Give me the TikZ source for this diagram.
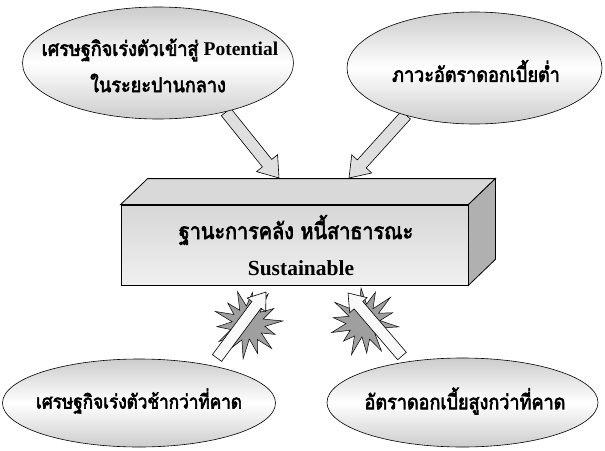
\documentclass[tikz,border=0pt]{standalone}
\usepackage{fontspec}
\setmainfont{Liberation Serif}
\newfontfamily\thai[Script=Thai, FakeStretch=0.88, BoldFont=*, BoldFeatures={FakeBold=3}]{Loma}
\usetikzlibrary{calc,shapes.geometric}
\tikzset{
  bubble/.style={ellipse, draw=black, line width=0.6pt, top color=gray!40, bottom color=gray!40, middle color=white, inner sep=0pt},
  lbl/.style={font=\bfseries\fontsize{20.5}{24}\selectfont, align=center, inner sep=0pt},
  inarrow/.style={draw=black, line width=0.6pt, fill=gray!25},
  outarrow/.style={draw=black, line width=0.6pt, fill=gray!5},
  burststy/.style={draw=black, line width=0.5pt, fill=gray!75},
  boxfront/.style={draw=black, line width=0.8pt, top color=gray!32, bottom color=gray!12, minimum width=347pt, minimum height=80pt, inner sep=0pt},
}
\newcommand{\blockarrow}[6]{%
  \path[#6] let \p1=($(#2)-(#1)$), \n1={atan2(\y1,\x1)}, \n2={veclen(\x1,\y1)} in
    [shift={(#1)}, rotate=\n1]
    (0pt,{-#3}) -- ({\n2-#5},{-#3}) -- ({\n2-#5},{-#4}) -- ({\n2},0pt) -- ({\n2-#5},{#4}) -- ({\n2-#5},{#3}) -- (0pt,{#3}) -- cycle;}
\newcommand{\burst}[2]{%
  \draw[burststy, shift={(#1)}, rotate=#2] (0:35) -- (13:17) -- (26:29) -- (39:16) -- (51:34) -- (64:18) -- (77:31) -- (90:15) -- (103:35) -- (116:17) -- (129:28) -- (141:16) -- (154:34) -- (167:18) -- (180:31) -- (193:16) -- (206:35) -- (219:17) -- (231:29) -- (244:16) -- (257:34) -- (270:18) -- (283:32) -- (296:16) -- (309:36) -- (321:17) -- (334:30) -- (347:16) -- cycle;}
\begin{document}
\begin{tikzpicture}[x=1pt,y=-1pt]
\useasboundingbox[fill=white] (0,0) rectangle (605,450);

% top arrows (under the ellipses)
\coordinate (t1) at (226,112);
\coordinate (h1) at (279,178);
\coordinate (t2) at (406,115);
\coordinate (h2) at (349,178);
\blockarrow{t1}{h1}{6pt}{13.5pt}{19pt}{inarrow}
\blockarrow{t2}{h2}{6pt}{13.5pt}{19pt}{inarrow}

% ellipses
\node[bubble, minimum width=271pt, minimum height=112pt] (e1) at (158,63) {};
\node[bubble, minimum width=255pt, minimum height=112pt] (e2) at (474.5,68) {};
\node[bubble, minimum width=273pt, minimum height=88pt] (e3) at (139,403) {};
\node[bubble, minimum width=271pt, minimum height=89pt] (e4) at (462.5,402.5) {};

\node[lbl] (l1a) at (160,50) {{\thai เศรษฐกิจเร่งตัวเข้าสู่} {\fontsize{19.5}{22}\selectfont Potential}};
\node[lbl] (l1b) at (158,83) {\thai ในระยะปานกลาง};
\node[lbl] (l2) at (476,71) {\thai ภาวะอัตราดอกเบี้ยต่ำ};
\node[lbl, font=\bfseries\fontsize{19.5}{24}\selectfont] (l3) at (139,401) {\thai เศรษฐกิจเร่งตัวช้ากว่าที่คาด};
\node[lbl] (l4) at (465,401) {\thai อัตราดอกเบี้ยสูงกว่าที่คาด};

% box
\node[boxfront] (box) at (294.5,245) {};
\draw[line width=0.8pt, fill=gray!30] (box.north west) -- ++(27,-26) -- ([shift={(27,-26)}]box.north east) -- (box.north east) -- cycle;
\draw[line width=0.8pt, fill=gray!62] (box.north east) -- ++(27,-26) -- ([shift={(27,-26)}]box.south east) -- (box.south east) -- cycle;
\node[lbl, font=\bfseries\fontsize{22.5}{24}\selectfont] (b1) at (296,230) {\thai ฐานะการคลัง หนี้สาธารณะ};
\node[lbl, font=\bfseries\fontsize{21.5}{24}\selectfont] (b2) at (301,268) {Sustainable};

% bottom arrows with bursts
\coordinate (c1) at (248,324);
\coordinate (c2) at (364,322);
\burst{c1}{5}
\burst{c2}{-8}
\coordinate (t3) at (217,358);
\coordinate (h3) at (266,292);
\coordinate (t4) at (402,356);
\coordinate (h4) at (348,293);
\blockarrow{t3}{h3}{5.7pt}{11.5pt}{16pt}{outarrow}
\blockarrow{t4}{h4}{5.7pt}{11.5pt}{16pt}{outarrow}
\end{tikzpicture}
\end{document}
